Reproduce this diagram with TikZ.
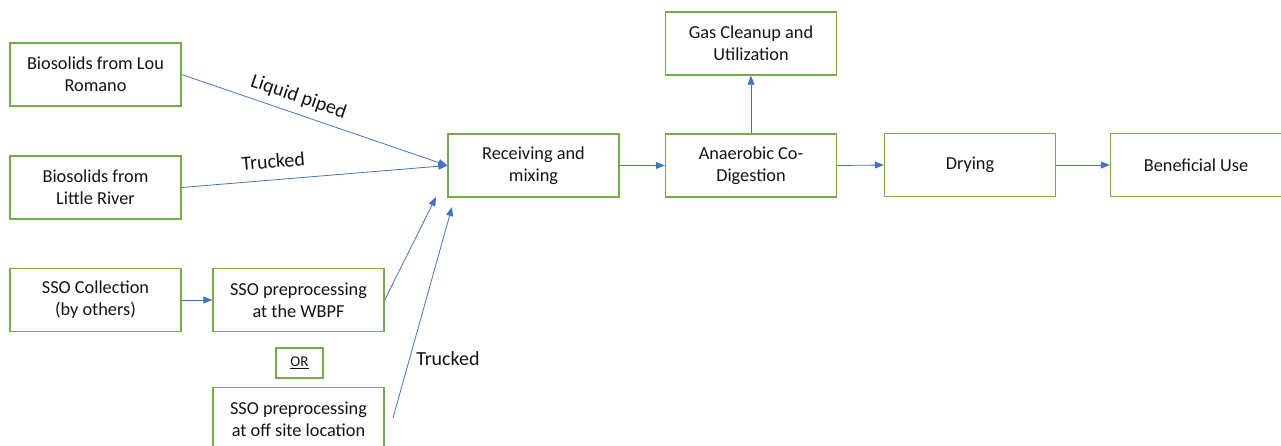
\documentclass[tikz,border=0pt]{standalone}
\usepackage{fontspec}
\setmainfont{Carlito}
\usetikzlibrary{arrows.meta}
\definecolor{boxgreen}{RGB}{112,173,71}
\definecolor{flowblue}{RGB}{68,114,196}
\definecolor{txt}{RGB}{20,20,20}
\begin{document}
\begin{tikzpicture}[x=1pt,y=-1pt,
  stage/.style={draw=boxgreen, line width=1.4pt, minimum width=171pt, minimum height=63pt,
    inner sep=2pt, align=center, text=txt, font=\fontsize{18.3}{22}\selectfont},
  orbox/.style={draw=boxgreen, line width=1.4pt, minimum width=47pt, minimum height=30pt,
    inner sep=0pt, text=txt, font=\fontsize{15}{17}\selectfont},
  flow/.style={draw=flowblue, line width=0.8pt, -{Triangle[length=9pt,width=7pt]}},
  tag/.style={text=txt, font=\fontsize{20}{22}\selectfont}]
\useasboundingbox (0,0) rectangle (1281,445);
\clip (0,0) rectangle (1281,445);

% source boxes
\node[stage] (lou)  at (95.5,74.5)  {Biosolids from Lou\\Romano};
\node[stage] (lr)   at (95.5,187.5) {Biosolids from\\Little River};
\node[stage] (sso)  at (95.5,300)   {SSO Collection\\(by others)};
\node[stage] (wbpf) at (298.5,300)  {SSO preprocessing\\at the WBPF};
\node[orbox] (or)   at (299.5,363)  {\underline{OR}};
\node[stage] (off)  at (298.5,419)  {SSO preprocessing\\at off site location};

% process chain
\node[stage] (recv) at (533.5,165.5) {Receiving and\\mixing};
\node[stage] (ad)   at (751,165.5)   {Anaerobic Co-\\Digestion};
\node[stage] (gas)  at (751,43.5)    {Gas Cleanup and\\Utilization};
\node[stage] (dry)  at (970,165)     {Drying};
\node[stage] (use)  at (1196,165)    {Beneficial Use};

% arrival points below the receiving box
\coordinate (inA) at (436,197);
\coordinate (inB) at (452,207);
\coordinate (offout) at (393,418);

\draw[flow] (lou.east) -- node[tag, sloped, above, pos=0.42, yshift=4pt] {Liquid piped} (recv.west);
\draw[flow] (lr.east) -- node[tag, sloped, above, pos=0.35, yshift=8pt] {Trucked} (recv.west);
\draw[flow] (sso.east) -- (wbpf.west);
\draw[flow] (wbpf.east) -- (inA);
\draw[flow] (offout) -- node[tag, right, pos=0.28, xshift=3pt] {Trucked} (inB);
\draw[flow] (recv.east) -- (ad.west);
\draw[flow] (ad.north) -- (gas.south);
\draw[flow] (ad.east) -- (dry.west);
\draw[flow] (dry.east) -- (use.west);
\end{tikzpicture}
\end{document}
